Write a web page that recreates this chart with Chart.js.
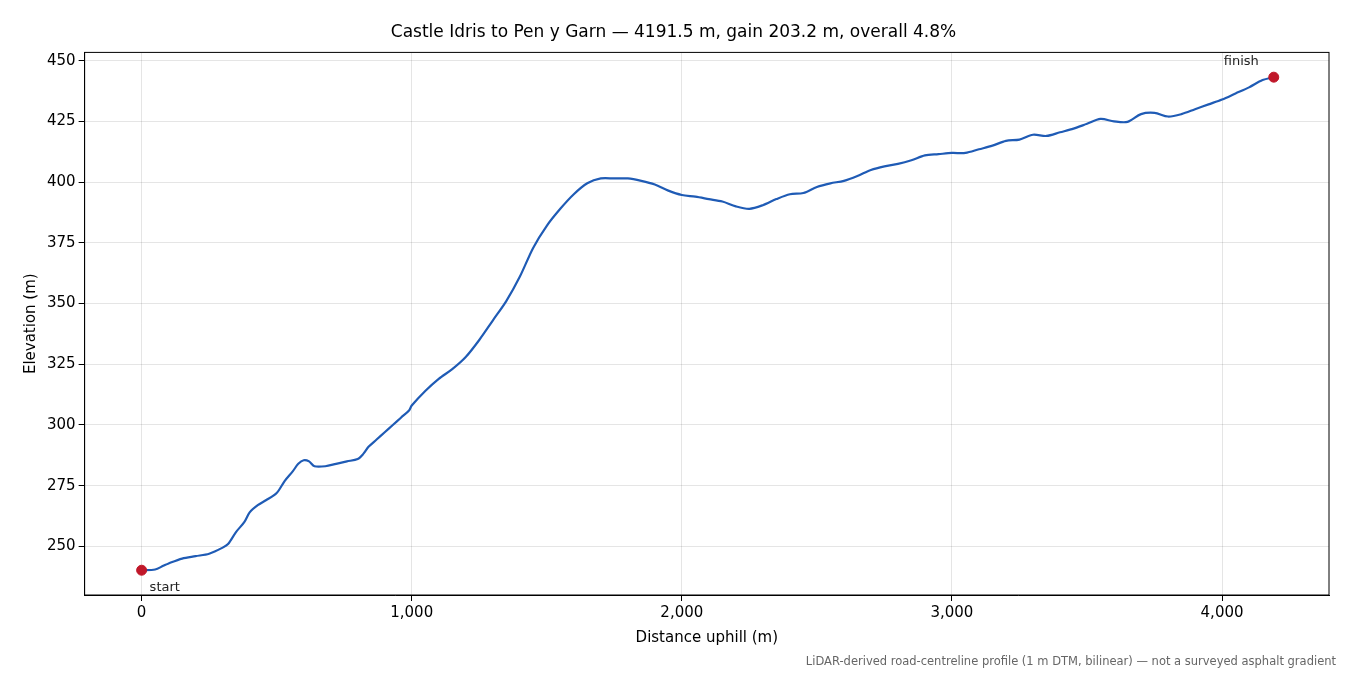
<!DOCTYPE html>
<html><head><meta charset="utf-8">
<script src="https://cdn.jsdelivr.net/npm/chart.js@4/dist/chart.umd.min.js"></script>
<style>html,body{margin:0;background:#fff}#w{width:1350px;height:675px}</style>
</head><body><div id="w"><canvas id="c"></canvas></div>
<script>
const distances=[0,50,80,100,150,200,250,300,320,350,380,400,430,460,500,530,560,580,600,620,640,680,720,760,800,820,840,870,900,930,960,990,1000,1050,1100,1150,1200,1250,1300,1350,1400,1450,1500,1550,1600,1650,1700,1750,1800,1850,1900,1950,2000,2050,2100,2150,2200,2250,2300,2350,2400,2450,2500,2550,2600,2650,2700,2750,2800,2850,2900,2950,3000,3050,3100,3150,3200,3250,3300,3350,3400,3450,3500,3550,3600,3650,3700,3750,3800,3850,3900,3950,4000,4050,4100,4150,4191.5];
const elevations=[240.2,240.5,242,243,245,246,247,249.5,251,256,260,264,267,269,272,277,281,284,285.5,285,283,283,284,285,286,288,291,294,297,300,303,306,308,314,319,323,328,335,343,351,361,373,382,389,395,399.5,401.5,401.5,401.5,400.5,399,396.5,394.7,394,393,392,390,389,390.5,393,395,395.5,398,399.5,400.5,402.5,405,406.5,407.5,409,411,411.5,412,412,413.5,415,417,417.5,419.5,419,420.5,422,424,426,425,424.8,428,428.5,427,428,430,432,434,436.5,439,442,443.2];
const endpoints=[{x:0,y:240.2,label:"start"},{x:4191.5,y:443.2,label:"finish"}];
const xTicks=[0,1000,2000,3000,4000];
const yTicks=[250,275,300,325,350,375,400,425,450];
const titleText="Castle Idris to Pen y Garn — 4191.5 m, gain 203.2 m, overall 4.8%";
const noteText="LiDAR-derived road-centreline profile (1 m DTM, bilinear) — not a surveyed asphalt gradient";
Chart.defaults.font.family="DejaVu Sans";
Chart.defaults.color="#000";
const extras={id:"extras",afterDraw(ch){const c=ch.ctx,a=ch.chartArea,xs=ch.scales.x,ys=ch.scales.y;
c.save();c.strokeStyle="#000";c.lineWidth=1;c.strokeRect(a.left,a.top,a.right-a.left,a.bottom-a.top);
c.font="13px DejaVu Sans";c.fillStyle="#222";
const s=endpoints[0],f=endpoints[1];
c.textAlign="left";c.textBaseline="top";c.fillText(s.label,xs.getPixelForValue(s.x)+8,ys.getPixelForValue(s.y)+11);
c.textAlign="right";c.textBaseline="bottom";c.fillText(f.label,xs.getPixelForValue(f.x)-15,ys.getPixelForValue(f.y)-9);
c.font="11.5px DejaVu Sans";c.fillStyle="#666";c.textAlign="right";c.textBaseline="bottom";c.fillText(noteText,1336,668);
c.restore();}};
new Chart(document.getElementById("c"),{type:"scatter",
data:{datasets:[
{data:distances.map((d,i)=>({x:d,y:elevations[i]})),showLine:true,borderColor:"#1f5bb5",borderWidth:2.2,pointRadius:0,tension:0.3,order:2},
{data:endpoints.map(p=>({x:p.x,y:p.y})),pointRadius:5,pointBackgroundColor:"#c0182a",pointBorderColor:"#c0182a",showLine:false,order:1}]},
options:{responsive:true,maintainAspectRatio:false,animation:false,
layout:{padding:{left:18,right:21,top:14,bottom:24}},
plugins:{legend:{display:false},tooltip:{enabled:false},
title:{display:true,text:titleText,font:{size:17,weight:"normal"},padding:{top:8,bottom:10}}},
scales:{x:{type:"linear",min:-211,max:4396,afterBuildTicks:s=>{s.ticks=xTicks.map(v=>({value:v}));},ticks:{font:{size:15},autoSkip:false,maxRotation:0},grid:{color:"rgba(0,0,0,0.1)",tickColor:"#000",tickLength:6},border:{color:"#000"},
title:{display:true,text:"Distance uphill (m)",font:{size:15},padding:{top:4}}},
y:{min:230,max:453.4,afterBuildTicks:s=>{s.ticks=yTicks.map(v=>({value:v}));},ticks:{font:{size:15},autoSkip:false},grid:{color:"rgba(0,0,0,0.1)",tickColor:"#000",tickLength:6},border:{color:"#000"},
title:{display:true,text:"Elevation (m)",font:{size:15}}}}},
plugins:[extras]});
</script></body></html>
